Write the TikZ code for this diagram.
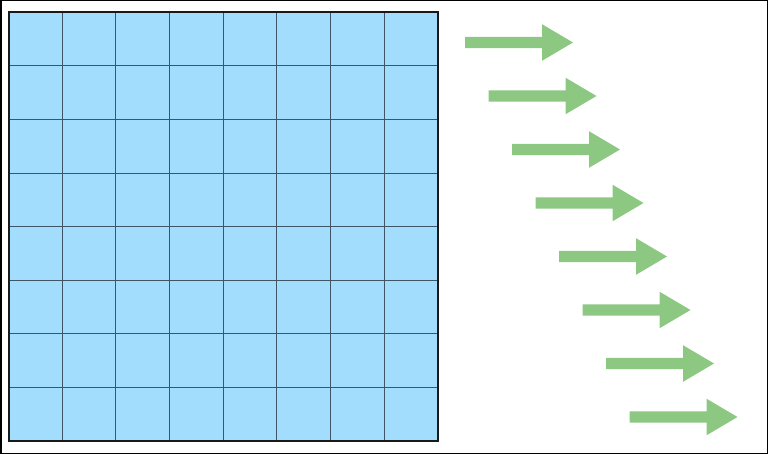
\documentclass[tikz,border=0pt]{standalone}
\definecolor{cellblue}{HTML}{A3DDFE}
\definecolor{gridline}{HTML}{3E5566}
\definecolor{arrowgreen}{HTML}{8CC882}
\begin{document}
\begin{tikzpicture}[x=1pt,y=-1pt,
  fatarrow/.style={fill=arrowgreen,draw=none}]
\useasboundingbox (0,0) rectangle (768,454);
\draw[line width=1.5pt,black] (0.75,0.75) rectangle (767.25,453.25);
% grid
\fill[cellblue] (8.5,12) rectangle (437.5,441);
\foreach \i in {1,...,7}{
  \draw[gridline,line width=0.6pt] ({8.5+\i*429/8},12) -- ({8.5+\i*429/8},441);
  \draw[gridline,line width=0.6pt] (8.5,{12+\i*429/8}) -- (437.5,{12+\i*429/8});
}
\draw[line width=2pt,black!90] (8.5,12) rectangle (437.5,441);
% arrows
\foreach \i in {0,...,7}{
  \pgfmathsetmacro{\xs}{465+23.5*\i}
  \pgfmathsetmacro{\yc}{42.5+53.5*\i}
  \fill[fatarrow] (\xs,\yc-5.7) -- (\xs+77,\yc-5.7) -- (\xs+77,\yc-18.3) -- (\xs+108,\yc) -- (\xs+77,\yc+18.3) -- (\xs+77,\yc+5.7) -- (\xs,\yc+5.7) -- cycle;
}
\end{tikzpicture}
\end{document}
